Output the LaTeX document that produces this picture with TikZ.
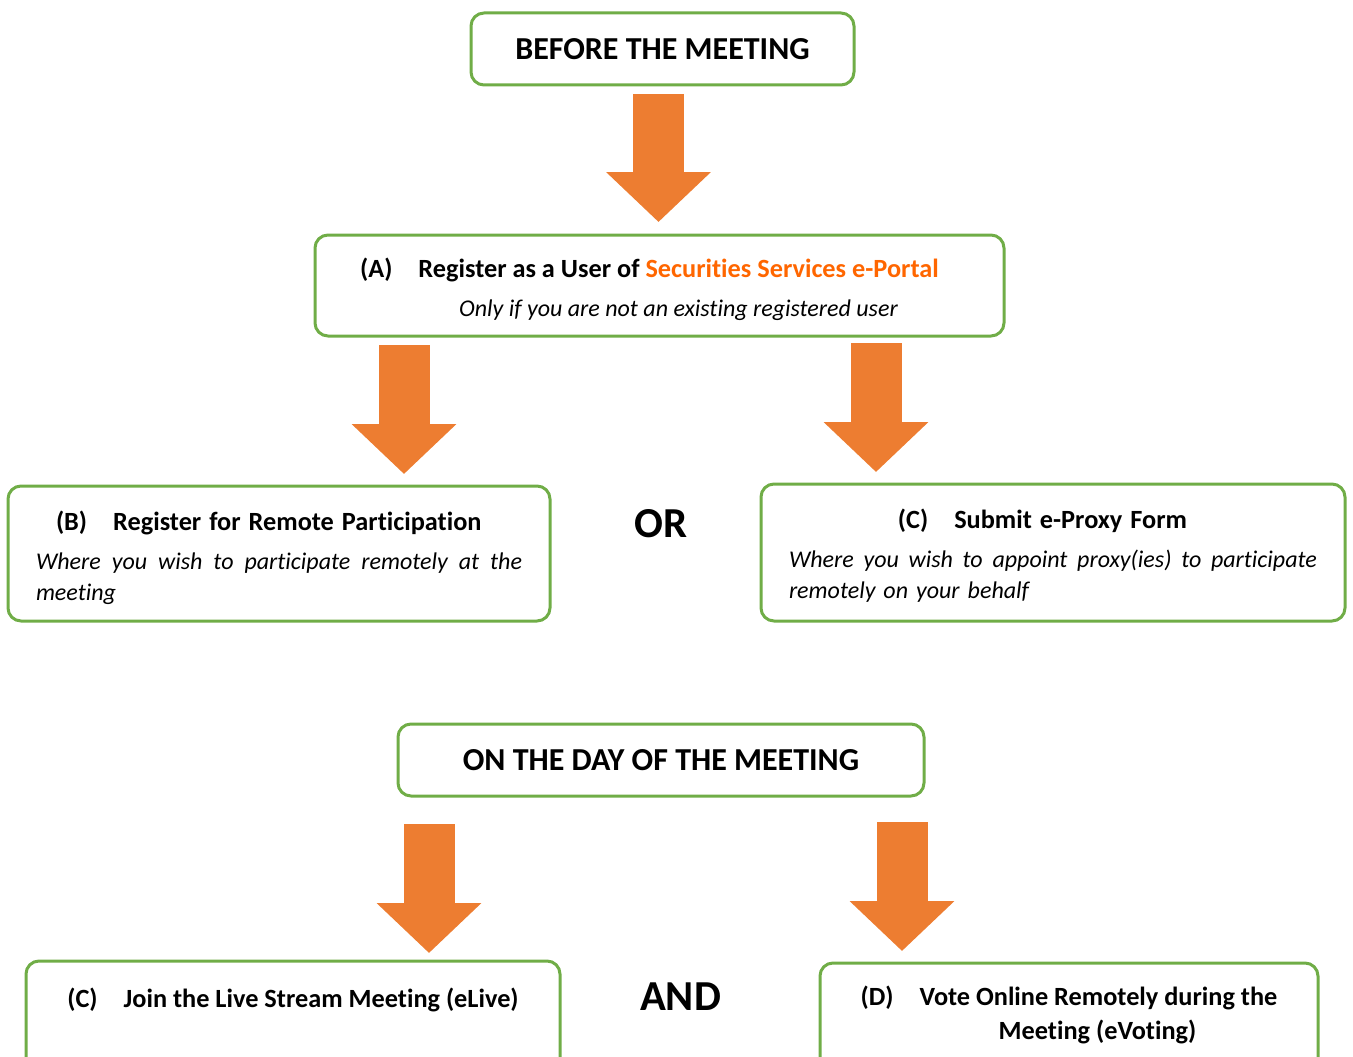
\documentclass[tikz,border=0pt]{standalone}
\usepackage{fontspec}
\setmainfont{Carlito}[Ligatures=NoCommon]
\usetikzlibrary{arrows.meta}
\usetikzlibrary{positioning}

\definecolor{boxgreen}{RGB}{112,173,71}
\definecolor{arroworange}{RGB}{237,125,49}
\definecolor{portalorange}{RGB}{255,102,0}

\newcommand{\bodyfs}{\fontsize{24}{31}\selectfont}
\newcommand{\titlefs}{\fontsize{26.3}{31}\selectfont\bfseries}
\newcommand{\headfs}{\fontsize{32}{37}\selectfont\bfseries}
\newcommand{\bigfs}{\fontsize{42.7}{50}\selectfont\bfseries}
\newcommand{\tabgap}{\hspace{26pt}}
\newcommand{\spreadline}[2]{\makebox[#1][s]{\spaceskip=0.22em plus 1fil\relax #2}}

\tikzset{
  greenbox/.style={draw=boxgreen, line width=3pt, rounded corners=13pt, inner sep=0pt, outer sep=0pt},
  bigarrow/.style={arroworange, line width=51pt, -{Triangle[width=102pt,length=50pt]}},
}

\begin{document}
\begin{tikzpicture}[x=1pt,y=-1pt]
    \useasboundingbox (0,0) rectangle (1353,1057);
    \clip (0,0) rectangle (1353,1057);

    % Before the meeting
    \node[greenbox, minimum width=383pt, minimum height=72pt, font=\headfs] (before) at (662.5,49) {BEFORE THE MEETING};

    % Step A
    \node[greenbox, minimum width=689pt, minimum height=101pt] (regA) at (659.5,285.5) {};
    \node[align=center, font=\bodyfs] (regAtext) at ([yshift=-4pt]regA.center)
        {{\titlefs (A)\tabgap Register as a User of \textcolor{portalorange}{Securities Services e-Portal}}\hspace*{20pt}\\[8pt]
         \hspace*{38pt}\itshape Only if you are not an existing registered user};

    % Step B or C
    \node[greenbox, minimum width=542pt, minimum height=135pt] (regB) at (279,553.5) {};
    \node[text width=486pt, align=left, font=\bodyfs] (regBtext) at ([yshift=-4.5pt]regB.center)
        {\hspace*{20pt}{\titlefs (B)\tabgap Register for Remote Participation}\\[8pt]
         \itshape\spreadline{486pt}{Where you wish to participate remotely at the}\\
         meeting};
    \node[greenbox, minimum width=584pt, minimum height=137pt] (proxyC) at (1053,552.5) {};
    \node[text width=528pt, align=left, font=\bodyfs] (proxyCtext) at ([yshift=-3pt]proxyC.center)
        {\makebox[528pt]{\titlefs (C)\tabgap Submit e-Proxy Form\hspace*{21pt}}\\[8pt]
         \itshape\spreadline{528pt}{Where you wish to appoint proxy(ies) to participate}\\
         remotely on your behalf};
    \node[font=\bigfs] (orword) at (661,524) {OR};

    % On the day
    \node[greenbox, minimum width=526pt, minimum height=72pt, font=\headfs] (onday) at (661,760) {ON THE DAY OF THE MEETING};

    % Steps C and D
    \node[greenbox, minimum width=534pt, minimum height=135pt] (liveC) at (293,1028.5) {};
    \node[font=\titlefs] (liveT) at ([yshift=-39pt]liveC.north) {(C)\tabgap Join the Live Stream Meeting (eLive)};
    \node[greenbox, minimum width=498pt, minimum height=135pt] (voteD) at (1069,1030.5) {};
    \node[font=\titlefs, align=center] (voteT) at ([yshift=-52pt]voteD.north)
        {(D)\tabgap Vote Online Remotely during the\\[2.5pt]\hspace*{57pt}Meeting (eVoting)};
    \node[font=\bigfs] (andword) at (680.5,997) {AND};

    % Arrows
    \draw[bigarrow] ([xshift=-4pt,yshift=-9pt]before.south) -- ([xshift=-1pt,yshift=13pt]regA.north);
    \draw[bigarrow] ([xshift=89pt,yshift=-9pt]regA.south west) -- ([xshift=396pt,yshift=12pt]regB.north west);
    \draw[bigarrow] ([xshift=-128pt,yshift=-7pt]regA.south east) -- ([xshift=115pt,yshift=12pt]proxyC.north west);
    \draw[bigarrow] ([xshift=31pt,yshift=-28pt]onday.south west) -- ([xshift=403pt,yshift=8pt]liveC.north west);
    \draw[bigarrow] ([xshift=-22pt,yshift=-26pt]onday.south east) -- ([xshift=82pt,yshift=12pt]voteD.north west);
\end{tikzpicture}
\end{document}
